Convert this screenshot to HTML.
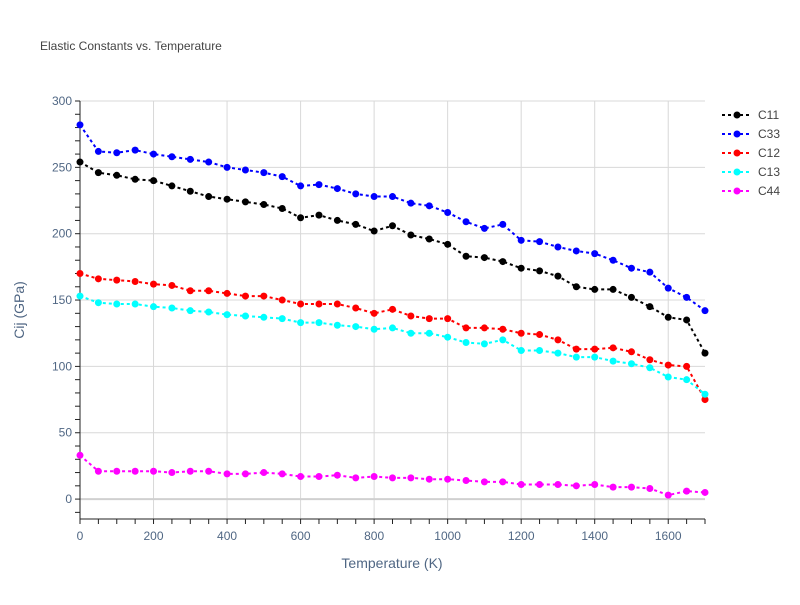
<!DOCTYPE html>
<html><head><meta charset="utf-8"><style>
body{margin:0;background:#fff;font-family:"Liberation Sans",sans-serif}
svg text{font-family:"Liberation Sans",sans-serif}
</style></head><body>
<svg id="chart" width="800" height="600">
<text x="40" y="50" font-size="12" fill="#444">Elastic Constants vs. Temperature</text>
<g id="grid"></g><g id="axes"></g><g id="series"></g><g id="legend"></g>
<text x="392" y="568" font-size="14" fill="#506784" text-anchor="middle">Temperature (K)</text>
<text transform="translate(24,310) rotate(-90)" font-size="14" fill="#506784" text-anchor="middle">Cij (GPa)</text>
</svg>
<script>
const temps=[0,50,100,150,200,250,300,350,400,450,500,550,600,650,700,750,800,850,900,950,1000,1050,1100,1150,1200,1250,1300,1350,1400,1450,1500,1550,1600,1650,1700];
const c11=[254,246,244,241,240,236,232,228,226,224,222,219,212,214,210,207,202,206,199,196,192,183,182,179,174,172,168,160,158,158,152,145,137,135,110];
const c33=[282,262,261,263,260,258,256,254,250,248,246,243,236,237,234,230,228,228,223,221,216,209,204,207,195,194,190,187,185,180,174,171,159,152,142];
const c12=[170,166,165,164,162,161,157,157,155,153,153,150,147,147,147,144,140,143,138,136,136,129,129,128,125,124,120,113,113,114,111,105,101,100,75];
const c13=[153,148,147,147,145,144,142,141,139,138,137,136,133,133,131,130,128,129,125,125,122,118,117,120,112,112,110,107,107,104,102,99,92,90,79];
const c44=[33,21,21,21,21,20,21,21,19,19,20,19,17,17,18,16,17,16,16,15,15,14,13,13,11,11,11,10,11,9,9,8,3,6,5];
const seriesNames=["C11","C33","C12","C13","C44"];
const seriesColors=["#000000","#0000ff","#ff0000","#00ffff","#ff00ff"];
const seriesData=[c11,c33,c12,c13,c44];
const xTicks=[0,200,400,600,800,1000,1200,1400,1600];
const yTicks=[0,50,100,150,200,250,300];
const NS="http://www.w3.org/2000/svg";
const X0=80,X1=705,Y0=101,Y1=519,xmin=0,xmax=1700,ymin=-15,ymax=300;
const sx=v=>X0+(v-xmin)/(xmax-xmin)*(X1-X0);
const sy=v=>Y1-(v-ymin)/(ymax-ymin)*(Y1-Y0);
function mk(t,a,p){const e=document.createElementNS(NS,t);for(const k in a)e.setAttribute(k,a[k]);p.appendChild(e);return e;}
const grid=document.getElementById('grid'),axes=document.getElementById('axes');
xTicks.forEach(t=>{
 const l=mk('line',{x1:sx(t),x2:sx(t),y1:Y0,y2:Y1,stroke:'#d8d8d8','stroke-width':1},grid);
 
 
 const tx=mk('text',{x:sx(t),y:Y1+21,'font-size':12,fill:'#506784','text-anchor':'middle'},axes);
 tx.textContent=t;
 
 
});
yTicks.forEach(t=>{
 const l=mk('line',{x1:X0,x2:X1,y1:sy(t),y2:sy(t),stroke:t===0?'#d0d0d0':'#d8d8d8','stroke-width':t===0?2:1},grid);
 
 
 const tx=mk('text',{x:X0-8,y:sy(t)+4,'font-size':12,fill:'#506784','text-anchor':'end'},axes);
 tx.textContent=t;
 
 
});
const ax=mk('line',{x1:X0,x2:X0,y1:Y0,y2:Y1,stroke:'#222','stroke-width':1},axes);


const bx=mk('line',{x1:X0,x2:X1,y1:Y1,y2:Y1,stroke:'#222','stroke-width':1},axes);


for(let t=-10;t<=300;t+=10){mk('line',{x1:X0-5,x2:X0,y1:sy(t),y2:sy(t),stroke:'#222'},axes);}
for(let t=0;t<=1700;t+=50){mk('line',{x1:sx(t),x2:sx(t),y1:Y1,y2:Y1+5,stroke:'#222'},axes);}
const sg=document.getElementById('series'),lg=document.getElementById('legend');
seriesData.forEach((d,i)=>{
 const g=mk('g',{},sg);
 
 
 const pts=d.map((v,j)=>sx(temps[j])+','+sy(v)).join(' ');
 const pl=mk('polyline',{points:pts,fill:'none',stroke:seriesColors[i],'stroke-width':2,'stroke-dasharray':'3,3'},g);
 
 
 d.forEach((v,j)=>{
  const c=mk('circle',{cx:sx(temps[j]),cy:sy(v),r:3.5,fill:seriesColors[i]},g);
  
  
 });
 const ly=115+i*19;
 const le=mk('g',{},lg);
 
 
 mk('line',{x1:722,x2:752,y1:ly,y2:ly,stroke:seriesColors[i],'stroke-width':2,'stroke-dasharray':'3,3'},le);
 mk('circle',{cx:737,cy:ly,r:3.5,fill:seriesColors[i]},le);
 const t=mk('text',{x:758,y:ly+4,'font-size':12,fill:'#444'},le);
 t.textContent=seriesNames[i];
});
</script>
</body></html>
